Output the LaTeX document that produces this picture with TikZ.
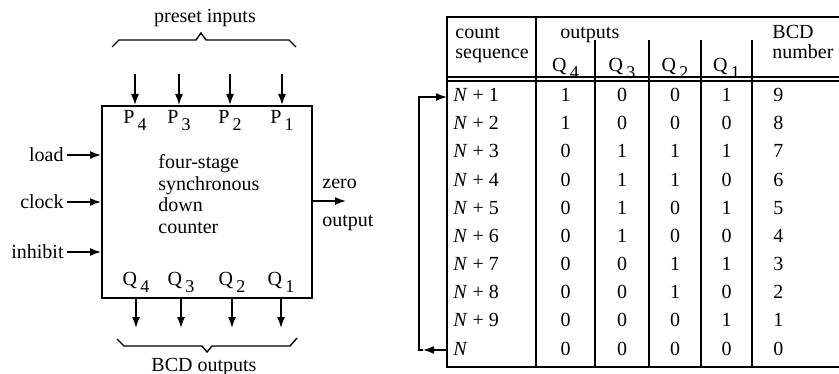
\documentclass[tikz,border=0pt]{standalone}
\usepackage{fontspec}
\setmainfont{Liberation Serif}
\usetikzlibrary{arrows.meta}
\newcommand{\lowsub}[1]{\,\raisebox{-3.5pt}{\small #1}}

\begin{document}
\begin{tikzpicture}[
        x=0.5pt, y=-0.5pt,
        >={Latex[length=5.5pt,width=4pt]},
        % block and arrows
        blk/.style={draw, line width=1pt, minimum width=105pt,
                    minimum height=96pt, inner sep=0pt},
        arr/.style={->, line width=0.75pt},
        lbl/.style={font=\fontsize{10}{10.7}\selectfont, inner sep=0pt},
        brc/.style={line width=0.7pt},
        % table
        tline/.style={line width=0.55pt},
        cell/.style={lbl, anchor=base},
    ]
    \useasboundingbox (0,0) rectangle (839,374);

    %% -- counter block --
    \node[blk] (ctr) at (207,202) {};
    \node[lbl, align=left, anchor=base west] (func) at (158,233)
        {four-stage\\synchronous\\down\\counter};

    % preset inputs P4..P1
    \foreach \i/\x in {4/135, 3/179, 2/230, 1/282} {
        \coordinate (pin\i) at (\x,74);
        \draw[arr] (pin\i) -- (pin\i |- ctr.north);
        \node[cell] (p\i) at (\x,123) {P\lowsub{\i}};
    }
    \draw[brc] (112,47) -- (119,40) -- (196,40) -- (201,33) -- (206,40)
        -- (289,40) -- (296,47);
    \node[cell] (pre) at (205,23) {preset inputs};

    % BCD outputs Q4..Q1
    \foreach \i/\x in {4/136, 3/181, 2/232, 1/281} {
        \coordinate (qout\i) at (\x,328);
        \draw[arr] (qout\i |- ctr.south) -- (qout\i);
        \node[cell] (q\i) at (\x,285) {Q\lowsub{\i}};
    }
    \draw[brc] (117,339) -- (124,346) -- (202,346) -- (207,352) -- (212,346)
        -- (290,346) -- (297,338);
    \node[cell] (bcdout) at (204,371) {BCD outputs};

    % control inputs
    \node[lbl, anchor=east] (load)    at (64,155) {load};
    \node[lbl, anchor=east] (clock)   at (64,202) {clock};
    \node[lbl, anchor=east] (inhibit) at (64,252) {inhibit};
    \foreach \n in {load, clock, inhibit}
        \draw[arr] ([xshift=1.5pt]\n.east) -- (\n -| ctr.west);

    % zero output
    \coordinate (zout) at (346,201);
    \draw[arr] (zout -| ctr.east) -- (zout);
    \node[lbl, anchor=base west] (zero) at (322,188) {zero};
    \node[lbl, anchor=base west] (outp) at (322,226) {output};

    %% -- count sequence table --
    \draw[tline, line width=0.7pt] (839,17) -- (447,17) -- (447,367) -- (839,367);
    \draw[tline] (447,77) -- (839,77);
    \draw[tline] (447,81) -- (839,81);
    \draw[tline] (536,17) -- (536,367);
    \foreach \x in {595, 649, 701, 752}
        \draw[tline] (\x,40) -- (\x,367);

    % header
    \node[cell, anchor=base west] (hcount) at (455,39) {count};
    \node[cell, anchor=base west] (hseq)   at (455,59) {sequence};
    \node[cell, anchor=base west] (hout)   at (560,39) {outputs};
    \node[cell, anchor=base west] (hbcd)   at (772,39) {BCD};
    \node[cell, anchor=base west] (hnum)   at (772,59) {number};
    \foreach \i/\x in {4/565.5, 3/622, 2/675, 1/726.5}
        \node[cell] (hq\i) at (\x,72) {Q\lowsub{\i}};

    % rows
    \foreach \lab/\a/\b/\c/\d/\n [count=\r] in {
        {\textit{N} + 1}/1/0/0/1/9, {\textit{N} + 2}/1/0/0/0/8,
        {\textit{N} + 3}/0/1/1/1/7, {\textit{N} + 4}/0/1/1/0/6,
        {\textit{N} + 5}/0/1/0/1/5, {\textit{N} + 6}/0/1/0/0/4,
        {\textit{N} + 7}/0/0/1/1/3, {\textit{N} + 8}/0/0/1/0/2,
        {\textit{N} + 9}/0/0/0/1/1, {\textit{N}}/0/0/0/0/0} {
        \pgfmathsetmacro\yy{101.5+28.17*(\r-1)}
        \node[cell, anchor=base west] (n\r) at (453,\yy) {\lab};
        \node[cell] (va\r) at (565.5,\yy) {\a};
        \node[cell] (vb\r) at (622,\yy)   {\b};
        \node[cell] (vc\r) at (675,\yy)   {\c};
        \node[cell] (vd\r) at (726.5,\yy) {\d};
        \node[cell, anchor=base west] (vn\r) at (773,\yy) {\n};
    }

    % feedback from N back to N + 1
    \coordinate (fbout) at (447,350);
    \coordinate (fbtip) at (423,350);
    \coordinate (fbcor) at (419,350);
    \coordinate (fbin)  at (447,97);
    \draw[arr] (fbout) -- (fbtip);
    \draw[arr] (fbtip) -- (fbcor) |- (fbin);

\end{tikzpicture}
\end{document}
